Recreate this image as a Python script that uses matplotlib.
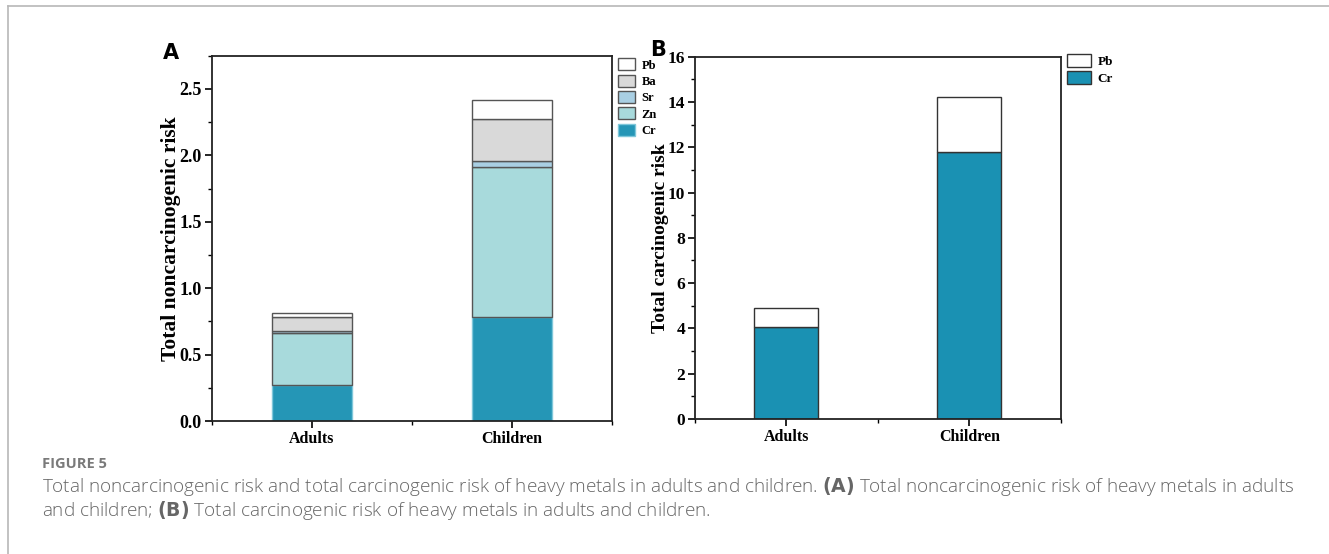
import numpy as np
import matplotlib.pyplot as plt
from matplotlib.ticker import MultipleLocator
from matplotlib.lines import Line2D

groups = ["Adults", "Children"]

# panel A: noncarcinogenic risk, stacked bottom -> top
metals_a = ["Cr", "Zn", "Sr", "Ba", "Pb"]
nc_cr = [0.27, 0.78]
nc_zn = [0.39, 1.135]
nc_sr = [0.015, 0.045]
nc_ba = [0.105, 0.315]
nc_pb = [0.03, 0.14]

# panel B: carcinogenic risk
metals_b = ["Cr", "Pb"]
c_cr = [4.05, 11.78]
c_pb = [0.84, 2.43]

colors_a = {"Cr": "#2596b6", "Zn": "#a8dadc", "Sr": "#a9cfe3", "Ba": "#d9d9d9", "Pb": "#ffffff"}
colors_b = {"Cr": "#1a91b3", "Pb": "#ffffff"}

plt.rcParams["font.family"] = ["Liberation Serif", "DejaVu Serif"]
plt.rcParams["font.weight"] = "bold"

fig = plt.figure(figsize=(13.29, 5.54), dpi=100)

# outer frame lines (top and left)
fig.add_artist(Line2D([8 / 1329, 8 / 1329], [0, 1 - 6 / 554], color="#b8b8b8", lw=1.2))
fig.add_artist(Line2D([8 / 1329, 1], [1 - 6 / 554, 1 - 6 / 554], color="#b8b8b8", lw=1.2))


def style_axes(ax, tick_fs):
    for s in ax.spines.values():
        s.set_linewidth(1.3)
        s.set_color("#222222")
    ax.tick_params(axis="both", which="major", direction="out", length=5, width=1.2,
                   labelsize=tick_fs, top=False, right=False, pad=2)
    ax.tick_params(axis="both", which="minor", direction="out", length=3, width=1.0,
                   top=False, right=False)
    ax.set_xlim(0.5, 2.5)
    ax.set_xticks([1, 2])
    ax.set_xticklabels(groups, fontsize=11.5, fontweight="bold")
    ax.xaxis.set_minor_locator(MultipleLocator(0.5))
    for lab in ax.get_yticklabels():
        lab.set_fontweight("bold")


x = np.array([1, 2])

# ---- panel A
axA = fig.add_axes([211.7 / 1329, 1 - 421 / 554, 400 / 1329, (421 - 55.7) / 554])
data_a = {"Cr": nc_cr, "Zn": nc_zn, "Sr": nc_sr, "Ba": nc_ba, "Pb": nc_pb}
bottom = np.zeros(2)
handles = {}
for m in metals_a:
    vals = np.array(data_a[m])
    ec = "#7fc7da" if m == "Cr" else "#555555"
    h = axA.bar(x, vals, 0.4, bottom=bottom, color=colors_a[m], edgecolor=ec, linewidth=1.0, label=m)
    handles[m] = h
    bottom += vals
axA.set_ylim(0, 2.75)
axA.yaxis.set_major_locator(MultipleLocator(0.5))
axA.yaxis.set_minor_locator(MultipleLocator(0.25))
axA.set_ylabel("Total noncarcinogenic risk", fontsize=15.5, fontweight="bold", labelpad=-1)
style_axes(axA, 13)
axA.legend([handles[m] for m in metals_a[::-1]], metals_a[::-1], loc="upper left",
           bbox_to_anchor=(1.0, 1.01), frameon=False, fontsize=9, handlelength=1.4,
           handleheight=1.1, labelspacing=0.25, borderaxespad=0.1, handletextpad=0.5)
fig.text(163 / 1329, 1 - 53 / 554, "A", fontsize=15, fontweight="bold", family="DejaVu Sans",
         va="center")

# ---- panel B
axB = fig.add_axes([695 / 1329, 1 - 419 / 554, 365.7 / 1329, (419 - 56.7) / 554])
data_b = {"Cr": c_cr, "Pb": c_pb}
bottom = np.zeros(2)
handles = {}
for m in metals_b:
    vals = np.array(data_b[m])
    h = axB.bar(x, vals, 0.35, bottom=bottom, color=colors_b[m], edgecolor="#333333", linewidth=1.0, label=m)
    handles[m] = h
    bottom += vals
axB.set_ylim(0, 16)
axB.yaxis.set_major_locator(MultipleLocator(2))
axB.yaxis.set_minor_locator(MultipleLocator(1))
axB.set_ylabel("Total carcinogenic risk", fontsize=14, fontweight="bold", labelpad=-1)
style_axes(axB, 12.5)
axB.legend([handles[m] for m in metals_b[::-1]], metals_b[::-1], loc="upper left",
           bbox_to_anchor=(1.0, 1.025), frameon=False, fontsize=9.5, handlelength=1.8,
           handleheight=1.1, labelspacing=0.25, borderaxespad=0.1, handletextpad=0.5)
fig.text(650 / 1329, 1 - 50 / 554, "B", fontsize=15, fontweight="bold", family="DejaVu Sans",
         va="center")

# ---- caption
cap = "#666666"
fig.text(42 / 1329, 1 - 464 / 554, "FIGURE 5", fontsize=10.5, color="#7a7a7a", family="Open Sans",
         fontweight="bold", va="center")
fig.text(42 / 1329, 1 - 487 / 554,
         "Total noncarcinogenic risk and total carcinogenic risk of heavy metals in adults and children. "
         r"$\bf{(A)}$ Total noncarcinogenic risk of heavy metals in adults",
         fontsize=13.6, color=cap, family="Open Sans", fontweight="light", va="center")
fig.text(42 / 1329, 1 - 510 / 554,
         r"and children; $\bf{(B)}$ Total carcinogenic risk of heavy metals in adults and children.",
         fontsize=13.6, color=cap, family="Open Sans", fontweight="light", va="center")

fig.savefig("out.png", dpi=100)
